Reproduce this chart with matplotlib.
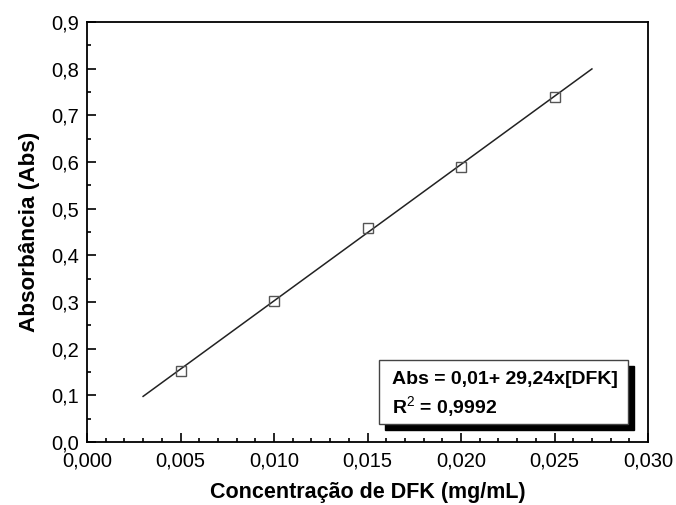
import matplotlib
matplotlib.use("Agg")
import matplotlib.pyplot as plt
from matplotlib.patches import Rectangle
from matplotlib.ticker import MultipleLocator, FuncFormatter
import numpy as np

plt.rcParams['font.family'] = ['Liberation Sans', 'DejaVu Sans']
plt.rcParams['mathtext.fontset'] = 'custom'
plt.rcParams['mathtext.rm'] = 'Liberation Sans'
plt.rcParams['mathtext.bf'] = 'Liberation Sans:bold'

# calibration data
conc = [0.005, 0.010, 0.015, 0.020, 0.025]
absorb = [0.152, 0.302, 0.458, 0.590, 0.740]
intercept = 0.01
slope = 29.24
fit_range = [0.003, 0.027]

fig = plt.figure(figsize=(6.76, 5.05), dpi=100)
ax = fig.add_axes([0.1287, 0.1248, 0.8299, 0.8316])

xf = np.array(fit_range)
ax.plot(xf, intercept + slope * xf, color='#222222', lw=1.1)
ax.plot(conc, absorb, linestyle='none', marker='s', markersize=7,
        markerfacecolor='none', markeredgecolor='#555555', markeredgewidth=1.0)

ax.set_xlim(0, 0.030)
ax.set_ylim(0, 0.9)
ax.xaxis.set_major_locator(MultipleLocator(0.005))
ax.xaxis.set_minor_locator(MultipleLocator(0.001))
ax.yaxis.set_major_locator(MultipleLocator(0.1))
ax.yaxis.set_minor_locator(MultipleLocator(0.05))
ax.xaxis.set_major_formatter(FuncFormatter(lambda v, p: f"{v:.3f}".replace('.', ',')))
ax.yaxis.set_major_formatter(FuncFormatter(lambda v, p: f"{v:.1f}".replace('.', ',')))
ax.tick_params(which='both', direction='in', top=False, right=False, width=1.2,
               labelsize=14.5)
ax.tick_params(axis='y', pad=6)
ax.tick_params(axis='x', pad=7)
ax.tick_params(which='major', length=6.5)
ax.tick_params(which='minor', length=3.2)
for s in ax.spines.values():
    s.set_linewidth(1.3)

ax.set_xlabel('Concentração de DFK (mg/mL)', fontsize=15.5, fontweight='bold', labelpad=8)
ax.set_ylabel('Absorbância (Abs)', fontsize=16.2, fontweight='bold', labelpad=8)

# equation box with drop shadow
bx, by, bw, bh = 0.5205, 0.0429, 0.4439, 0.152
ax.add_patch(Rectangle((bx + 0.0107, by - 0.0143), bw, bh, transform=ax.transAxes,
                       facecolor='black', edgecolor='black', zorder=4))
ax.add_patch(Rectangle((bx, by), bw, bh, transform=ax.transAxes,
                       facecolor='white', edgecolor='#444444', lw=1.0, zorder=5))
ax.text(bx + 0.023, by + bh * 0.70, 'Abs = 0,01+ 29,24x[DFK]', transform=ax.transAxes,
        fontsize=14, fontweight='bold', va='center', ha='left', zorder=6)
ax.text(bx + 0.023, by + bh * 0.27, r'R$^\mathrm{2}$ = 0,9992', transform=ax.transAxes,
        fontsize=14, fontweight='bold', va='center', ha='left', zorder=6)

fig.savefig('out.png', dpi=100)
